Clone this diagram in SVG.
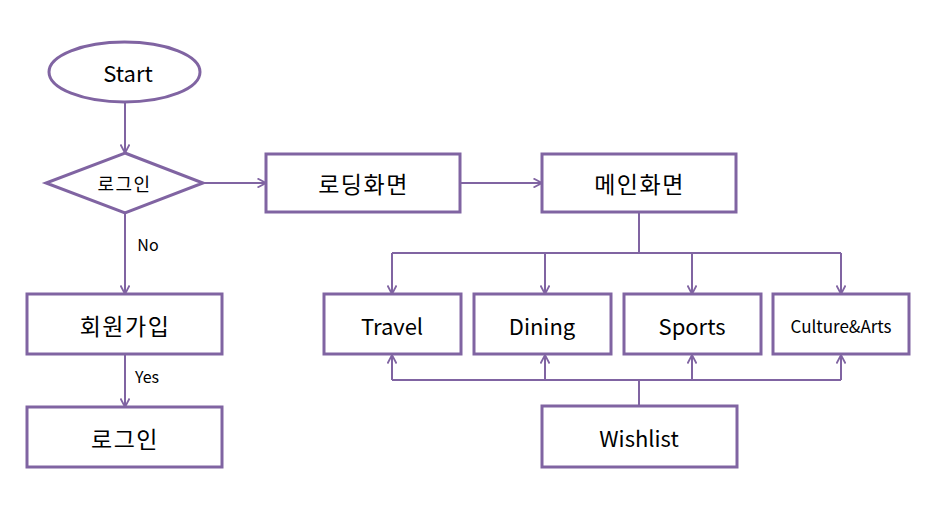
<svg xmlns="http://www.w3.org/2000/svg" width="936" height="509" viewBox="0 0 936 509">
<defs>
<style>
.shape{fill:#ffffff;stroke:#8064A2;stroke-width:3}
.conn{fill:none;stroke:#8064A2;stroke-width:2}
.t{font-family:"Noto Sans CJK KR","Noto Sans",sans-serif;fill:#000000;text-anchor:middle;dominant-baseline:central}
.big{font-size:22px}
.ko{font-size:23px;letter-spacing:1.5px}
.kos{font-size:18px;letter-spacing:1.5px}
.mid{font-size:17px}
.sm{font-size:16px}
</style>
<marker id="arr" viewBox="0 0 10 10" refX="9.5" refY="5" markerWidth="10" markerHeight="10" markerUnits="userSpaceOnUse" orient="auto">
<path d="M1,0.5 L9.5,5 L1,9.5" fill="none" stroke="#8064A2" stroke-width="1.8"/>
</marker>
</defs>
<rect width="936" height="509" fill="#ffffff"/>
<g id="connectors">
<line class="conn" x1="125" y1="102" x2="125" y2="153" marker-end="url(#arr)"/>
<line class="conn" x1="203" y1="183" x2="266" y2="183" marker-end="url(#arr)"/>
<line class="conn" x1="460" y1="183" x2="542" y2="183" marker-end="url(#arr)"/>
<line class="conn" x1="125" y1="213" x2="125" y2="294" marker-end="url(#arr)"/>
<line class="conn" x1="125" y1="354" x2="125" y2="407" marker-end="url(#arr)"/>
<polyline class="conn" points="639,212 639,253"/>
<line class="conn" x1="392" y1="253" x2="841" y2="253"/>
<line class="conn" x1="392" y1="253" x2="392" y2="294" marker-end="url(#arr)"/>
<line class="conn" x1="545" y1="253" x2="545" y2="294" marker-end="url(#arr)"/>
<line class="conn" x1="692" y1="253" x2="692" y2="294" marker-end="url(#arr)"/>
<line class="conn" x1="841" y1="253" x2="841" y2="294" marker-end="url(#arr)"/>
<line class="conn" x1="639" y1="406" x2="639" y2="380"/>
<line class="conn" x1="392" y1="380" x2="841" y2="380"/>
<line class="conn" x1="392" y1="380" x2="392" y2="355" marker-end="url(#arr)"/>
<line class="conn" x1="545" y1="380" x2="545" y2="355" marker-end="url(#arr)"/>
<line class="conn" x1="692" y1="380" x2="692" y2="355" marker-end="url(#arr)"/>
<line class="conn" x1="841" y1="380" x2="841" y2="355" marker-end="url(#arr)"/>
<text class="t sm" x="148" y="244">No</text>
<text class="t sm" x="147" y="376">Yes</text>
</g>
<g id="start">
<ellipse class="shape" cx="124.5" cy="72" rx="75.5" ry="30"/>
<text class="t big" x="128" y="72">Start</text>
</g>
<g id="login-decision">
<polygon class="shape" points="125,153 203,183 125,213 46,183"/>
<text class="t kos" x="124.5" y="183">로그인</text>
</g>
<g id="loading">
<rect class="shape" x="266" y="154" width="194" height="58"/>
<text class="t ko" x="363.5" y="183">로딩화면</text>
</g>
<g id="main">
<rect class="shape" x="542" y="154" width="194" height="58"/>
<text class="t ko" x="639.5" y="183">메인화면</text>
</g>
<g id="signup">
<rect class="shape" x="27" y="294" width="195" height="60"/>
<text class="t ko" x="125" y="325">회원가입</text>
</g>
<g id="login">
<rect class="shape" x="27" y="407" width="195" height="60"/>
<text class="t ko" x="125" y="438">로그인</text>
</g>
<g id="travel">
<rect class="shape" x="324" y="294" width="137" height="60"/>
<text class="t big" x="392" y="325">Travel</text>
</g>
<g id="dining">
<rect class="shape" x="474" y="294" width="137" height="60"/>
<text class="t big" x="542" y="325">Dining</text>
</g>
<g id="sports">
<rect class="shape" x="624" y="294" width="137" height="60"/>
<text class="t big" x="692" y="325">Sports</text>
</g>
<g id="culture">
<rect class="shape" x="773" y="294" width="136" height="60"/>
<text class="t mid" x="841" y="325">Culture&amp;Arts</text>
</g>
<g id="wishlist">
<rect class="shape" x="542" y="406" width="195" height="61"/>
<text class="t big" x="639" y="437">Wishlist</text>
</g>
</svg>
